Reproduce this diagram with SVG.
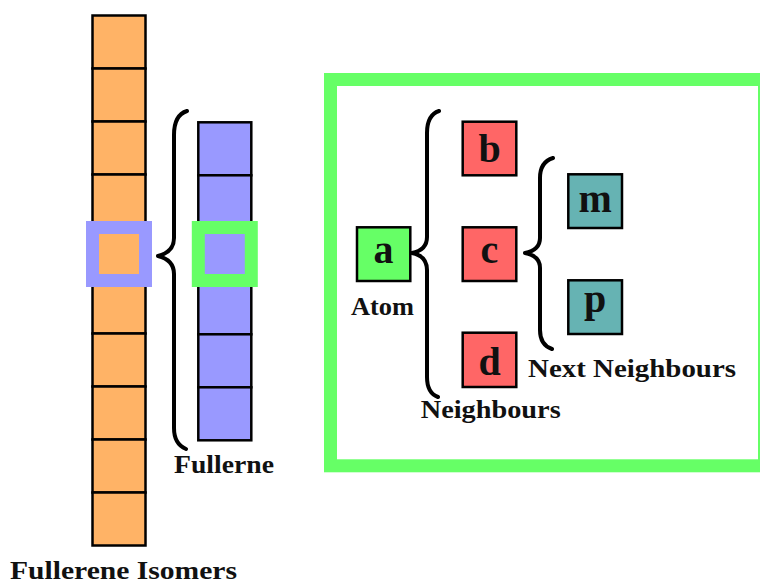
<svg xmlns="http://www.w3.org/2000/svg" width="760" height="583" viewBox="0 0 760 583">
<style>
.cell{stroke:#000;stroke-width:2.5}
.or{fill:#FFB366}
.bl{fill:#9999FF}
.lbl{font-family:"Liberation Serif","DejaVu Serif",serif;font-weight:bold;font-size:25px;fill:#111}
.let{font-family:"Liberation Serif","DejaVu Serif",serif;font-weight:bold;font-size:40px;fill:#111;text-anchor:middle}
.brace{fill:none;stroke:#000;stroke-width:4;stroke-linecap:round;stroke-linejoin:round}
.node{stroke:#000;stroke-width:2.5}
</style>
<rect width="760" height="583" fill="#fff"/>
<g id="isomers">
<rect class="cell or" x="92.5" y="15.5" width="53" height="53"/>
<rect class="cell or" x="92.5" y="68.5" width="53" height="53"/>
<rect class="cell or" x="92.5" y="121.5" width="53" height="53"/>
<rect class="cell or" x="92.5" y="174.5" width="53" height="53"/>
<rect class="cell or" x="92.5" y="227.5" width="53" height="53"/>
<rect class="cell or" x="92.5" y="280.5" width="53" height="53"/>
<rect class="cell or" x="92.5" y="333.5" width="53" height="53"/>
<rect class="cell or" x="92.5" y="386.5" width="53" height="53"/>
<rect class="cell or" x="92.5" y="439.5" width="53" height="53"/>
<rect class="cell or" x="92.5" y="492.5" width="53" height="53"/>
<rect x="92.5" y="227.5" width="53" height="53" fill="#FFB366" stroke="#9999FF" stroke-width="13"/>
<text class="lbl" x="10" y="579" textLength="227" lengthAdjust="spacingAndGlyphs">Fullerene Isomers</text>
</g>
<g id="fullerne">
<rect class="cell bl" x="198.3" y="122.3" width="53" height="53"/>
<rect class="cell bl" x="198.3" y="175.3" width="53" height="53"/>
<rect class="cell bl" x="198.3" y="228.3" width="53" height="53"/>
<rect class="cell bl" x="198.3" y="281.3" width="53" height="53"/>
<rect class="cell bl" x="198.3" y="334.3" width="53" height="53"/>
<rect class="cell bl" x="198.3" y="387.3" width="53" height="53"/>
<rect x="198.3" y="227.5" width="53" height="53" fill="#9999FF" stroke="#66FF66" stroke-width="13"/>
<text class="lbl" x="174" y="473" font-size="24" textLength="100" lengthAdjust="spacingAndGlyphs">Fullerne</text>
</g>
<g id="frame">
<rect x="330.5" y="79.5" width="434" height="386.3" fill="none" stroke="#66FF66" stroke-width="13"/>
</g>
<g id="connectors">
<path class="brace" d="M187,111 Q174,115 174,135 L174,238 Q174,252 158,256 Q174,260 174,274 L174,428 Q174,444 186,449"/>
<path class="brace" d="M439,111 Q427,115 427,133 L427,237 Q427,250 412,253 Q427,256 427,270 L427,377 Q427,393 438,397"/>
<path class="brace" d="M553,158 Q540,162 540,178 L540,238 Q540,250 525,253 Q540,256 540,268 L540,330 Q540,345 552,349"/>
</g>
<g id="node-a">
<rect class="node" x="357" y="227.3" width="53.3" height="53.7" fill="#66FF66"/>
<text class="let" x="383.6" y="263">a</text>
<text class="lbl" x="351" y="315" textLength="63" lengthAdjust="spacingAndGlyphs">Atom</text>
</g>
<g id="node-b">
<rect class="node" x="462.7" y="121.7" width="53.6" height="53.6" fill="#FF6666"/>
<text class="let" x="489.5" y="162">b</text>
</g>
<g id="node-c">
<rect class="node" x="462.7" y="227.3" width="53.6" height="53.7" fill="#FF6666"/>
<text class="let" x="489.5" y="263">c</text>
</g>
<g id="node-d">
<rect class="node" x="462.7" y="332.7" width="53.6" height="54.3" fill="#FF6666"/>
<text class="let" x="489.5" y="375">d</text>
</g>
<g id="node-m">
<rect class="node" x="568.3" y="174.3" width="53.7" height="53.7" fill="#66B3B3"/>
<text class="let" x="595.2" y="212">m</text>
</g>
<g id="node-p">
<rect class="node" x="568.3" y="280.3" width="53.7" height="53.7" fill="#66B3B3"/>
<text class="let" x="595.2" y="312">p</text>
</g>
<g id="labels">
<text class="lbl" x="420.7" y="417.5" textLength="140" lengthAdjust="spacingAndGlyphs">Neighbours</text>
<text class="lbl" x="528" y="376.7" textLength="208" lengthAdjust="spacingAndGlyphs">Next Neighbours</text>
</g>
</svg>
